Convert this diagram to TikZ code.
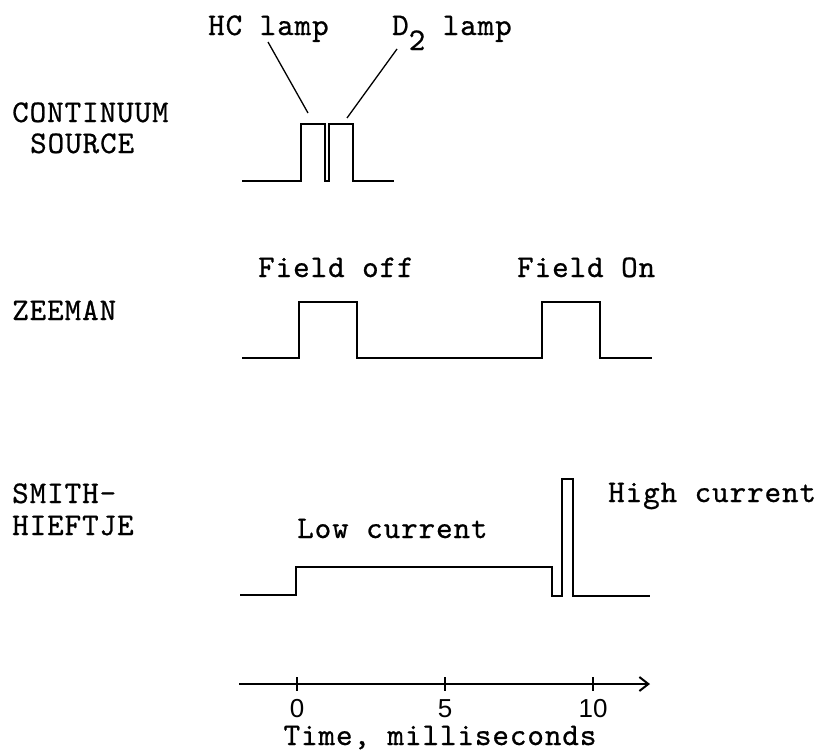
\documentclass[tikz,border=0pt]{standalone}
\usepackage{fontspec}
\newfontfamily\tw{lmmono10-regular.otf}[FakeBold=0.7, LetterSpace=3]
\newfontfamily\digits{Liberation Sans}
\usetikzlibrary{arrows.meta}
\tikzset{
  trace/.style={line width=2.5pt, line join=miter, line cap=butt},
  leader/.style={line width=1.3pt},
  lbl/.style={inner sep=0pt, anchor=base west, font=\tw\fontsize{31.5}{33}\selectfont},
  num/.style={inner sep=0pt, anchor=base, font=\digits\fontsize{26}{28}\selectfont},
}
\begin{document}
\begin{tikzpicture}[x=1pt,y=-1pt]
\useasboundingbox (0,0) rectangle (825,755);
% left labels
\node[lbl] (cont) at (12,122) {CONTINUUM};
\node[lbl] (src) at (30,153) {SOURCE};
\node[lbl] (zee) at (12,320) {ZEEMAN};
\node[lbl] (smith) at (12,503) {SMITH-};
\node[lbl] (hief) at (12,535) {HIEFTJE};
% continuum source
\node[lbl] (hc) at (208,35) {HC lamp};
\node[lbl] (d2) at (392,35) {D\raisebox{-15pt}{2} lamp};
\coordinate (hcA) at (268,42);
\coordinate (hcB) at (308,113);
\coordinate (d2A) at (397,49);
\coordinate (d2B) at (347,118);
\draw[leader] (hcA) -- (hcB);
\draw[leader] (d2A) -- (d2B);
\draw[trace] (242,181) -- (301,181) -- (301,124) -- (325,124) -- (325,181) -- (329,181)
  -- (329,124) -- (353,124) -- (353,181) -- (394,181);
% zeeman
\node[lbl] (foff) at (258,277) {Field off};
\node[lbl] (fon) at (517,277) {Field On};
\draw[trace] (242,358) -- (299,358) -- (299,302) -- (357,302) -- (357,358) -- (542,358)
  -- (542,302) -- (600,302) -- (600,358) -- (652,358);
% smith-hieftje
\node[lbl] (low) at (297,538) {Low current};
\node[lbl] (high) at (608,502) {High current};
\draw[trace] (240,595) -- (296,595) -- (296,567) -- (552,567) -- (552,596) -- (562,596)
  -- (562,479) -- (573,479) -- (573,596) -- (650,596);
% time axis
\coordinate (ax0) at (239,684);
\coordinate (ax1) at (650,684);
\draw[line width=2pt, -{Straight Barb[length=9pt,width=14pt,line width=2pt]}] (ax0) -- (ax1);
\foreach \xx/\lab/\nm in {297/0/t0, 445/5/t5, 593/10/t10} {
  \draw[line width=2pt] (\xx,677) -- (\xx,691);
  \node[num] (\nm) at (\xx,717) {\lab};
}
\node[lbl, anchor=base] (time) at (440,745) {Time, milliseconds};
\end{tikzpicture}
\end{document}
